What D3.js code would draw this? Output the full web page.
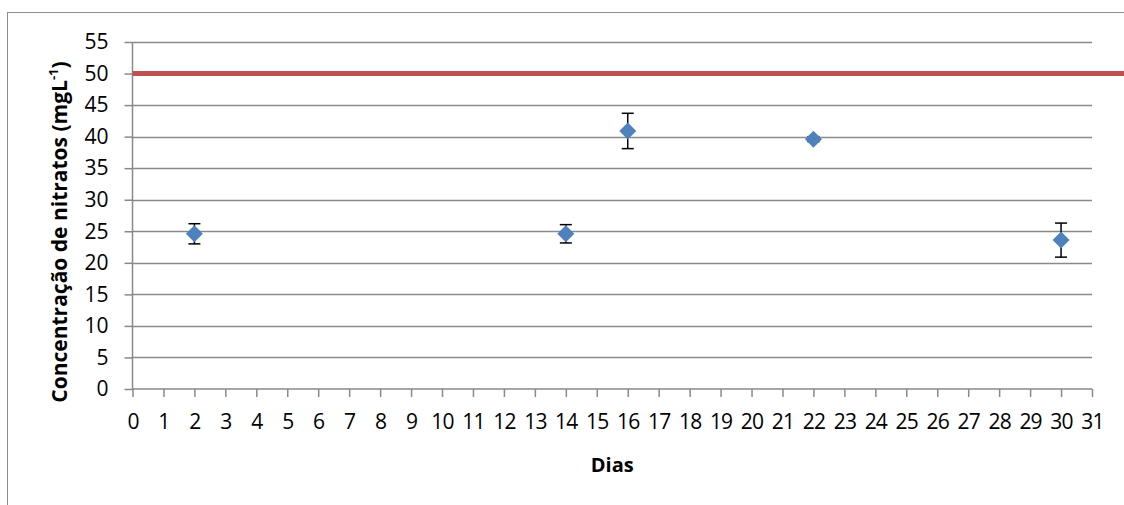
<!DOCTYPE html>
<html><head><meta charset="utf-8">
<script src="https://cdn.jsdelivr.net/npm/d3@7/dist/d3.min.js"></script>
<style>body{margin:0;background:#fff}svg{display:block;font-family:"Open Sans",sans-serif}</style>
</head><body><svg id="c" width="1124" height="505"></svg>
<script>
const days = [2, 14, 16, 22, 30];
const nitrate = [24.6, 24.6, 40.9, 39.6, 23.6];
const errors = [1.6, 1.45, 2.8, 0.4, 2.7];
const limitValue = 50;
const xTicks = d3.range(0, 32);
const yTicks = d3.range(0, 60, 5);

const FONT = "'Open Sans', sans-serif";
const svg = d3.select("#c");
const W = 1124, H = 505;
const m = {left: 132.5, right: 1092, top: 42, bottom: 389};
const x = d3.scaleLinear().domain([0, 31]).range([m.left, m.right]);
const y = d3.scaleLinear().domain([0, 55]).range([m.bottom, m.top]);

// outer chart border
svg.append("rect").attr("x", 7.5).attr("y", 12.5).attr("width", W + 10).attr("height", H + 10)
  .attr("fill", "#fff").attr("stroke", "#8c8c8c").attr("stroke-width", 1);

// gridlines
svg.append("g").selectAll("line").data(yTicks.filter(d => d > 0)).join("line")
  .attr("x1", m.left).attr("x2", m.right)
  .attr("y1", d => Math.round(y(d)) + 0.5).attr("y2", d => Math.round(y(d)) + 0.5)
  .attr("stroke", "#8a8a8a").attr("stroke-width", 1.5);

// y axis
const yAxis = svg.append("g").attr("transform", `translate(${m.left},0)`)
  .call(d3.axisLeft(y).tickValues(yTicks).tickSize(8).tickPadding(16));
yAxis.select(".domain").attr("stroke", "#8a8a8a").attr("stroke-width", 1.5).attr("d", `M0,${m.top}V${m.bottom}`);
yAxis.selectAll(".tick line").attr("stroke", "#8a8a8a").attr("stroke-width", 1.5);
yAxis.selectAll(".tick text").attr("font-size", 21).attr("fill", "#000").attr("font-family", FONT);

// x axis
const xAxis = svg.append("g").attr("transform", `translate(0,${m.bottom})`)
  .call(d3.axisBottom(x).tickValues(xTicks).tickSize(8).tickPadding(17).tickFormat(d3.format("d")));
xAxis.select(".domain").attr("stroke", "#8a8a8a").attr("stroke-width", 1.5).attr("d", `M${m.left},0H${m.right}`);
xAxis.selectAll(".tick line").attr("stroke", "#8a8a8a").attr("stroke-width", 1.5);
xAxis.selectAll(".tick text").attr("font-size", 21).attr("fill", "#000").attr("font-family", FONT)
  .attr("letter-spacing", -0.8);

// limit line
svg.append("line").attr("x1", m.left).attr("x2", W)
  .attr("y1", y(limitValue)).attr("y2", y(limitValue))
  .attr("stroke", "#C0504D").attr("stroke-width", 5);

// error bars
const eb = svg.append("g").selectAll("g").data(days.map((d, i) => ({d, v: nitrate[i], e: errors[i]}))).join("g");
eb.append("line").attr("x1", p => x(p.d)).attr("x2", p => x(p.d))
  .attr("y1", p => y(p.v + p.e)).attr("y2", p => y(p.v - p.e)).attr("stroke", "#000").attr("stroke-width", 1.5);
eb.append("line").attr("x1", p => x(p.d) - 6).attr("x2", p => x(p.d) + 6)
  .attr("y1", p => y(p.v + p.e)).attr("y2", p => y(p.v + p.e)).attr("stroke", "#000").attr("stroke-width", 1.5);
eb.append("line").attr("x1", p => x(p.d) - 6).attr("x2", p => x(p.d) + 6)
  .attr("y1", p => y(p.v - p.e)).attr("y2", p => y(p.v - p.e)).attr("stroke", "#000").attr("stroke-width", 1.5);

// markers
svg.append("g").selectAll("path").data(days.map((d, i) => ({d, v: nitrate[i]}))).join("path")
  .attr("transform", p => `translate(${x(p.d)},${y(p.v)})`)
  .attr("d", "M0,-8.5L8.5,0L0,8.5L-8.5,0Z").attr("fill", "#4F81BD");

// axis titles
svg.append("text").attr("x", (m.left + m.right) / 2).attr("y", 472).attr("text-anchor", "middle")
  .attr("font-size", 20).attr("font-weight", "bold").attr("font-family", FONT).text("Dias");
const yt = svg.append("text").attr("transform", "translate(67,232) rotate(-90)").attr("text-anchor", "middle")
  .attr("font-size", 21).attr("font-weight", "bold").attr("font-family", FONT);
yt.append("tspan").text("Concentração de nitratos (mgL");
yt.append("tspan").attr("font-size", 13).attr("dy", -9).text("-1");
yt.append("tspan").attr("dy", 9).text(")");
</script></body></html>
